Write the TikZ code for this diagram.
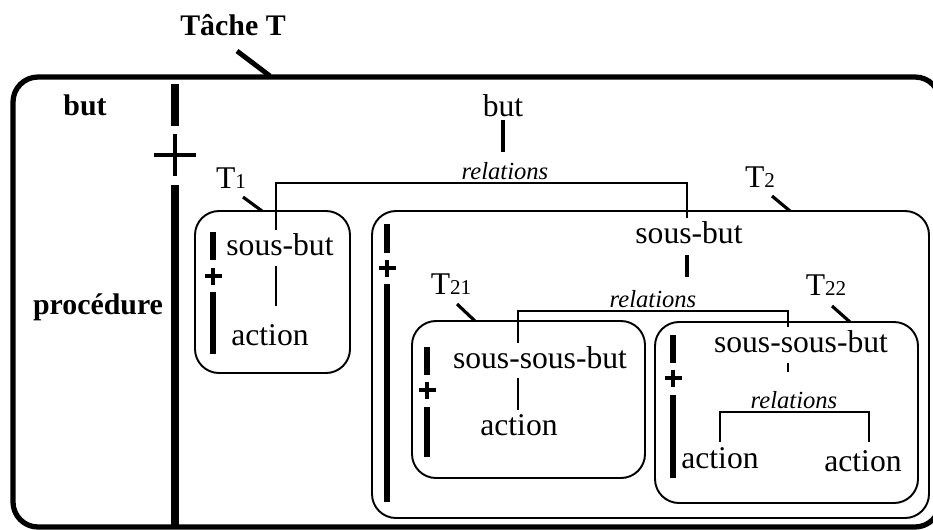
\documentclass[tikz,border=0pt]{standalone}
\usepackage{fontspec}
\setmainfont{Liberation Serif}
\usetikzlibrary{fit}

\newcommand{\idx}[1]{{\fontsize{12}{12}\selectfont #1}}

\begin{document}
\begin{tikzpicture}[
				x=0.02cm, y=-0.02cm,
				box/.style={draw, line width=1.1pt, rounded corners=0.48cm, inner sep=0pt},
				txt/.style={anchor=base, inner sep=0pt, font=\fontsize{18}{20}\selectfont},
				bold/.style={anchor=base, inner sep=0pt, font=\fontsize{17}{19}\selectfont\bfseries},
				rel/.style={anchor=south, inner sep=1.5pt, font=\fontsize{14}{16}\selectfont\itshape},
				link/.style={line width=0.9pt},
				tick/.style={line width=1.8pt},
				bar/.style={line width=3.6pt},
				plus/.style={line width=2.8pt}
				]
				\useasboundingbox (0,0) rectangle (933,529);
				
				% boites des taches
				\node[box, line width=3pt, rounded corners=0.5cm, fit={(13,77) (940,527)}] (T) {};
				\node[box, fit={(195,211) (350,373)}] (T1) {};
				\node[box, fit={(372,211) (929,518)}] (T2) {};
				\node[box, fit={(412,321) (645,478)}] (T21) {};
				\node[box, fit={(655,322) (918,503)}] (T22) {};
				
				% etiquettes
				\node[bold] (title) at (233,35) {Tâche T};
				\node[bold] (lbut) at (85,115) {but};
				\node[bold] (lproc) at (98,314) {procédure};
				\node[txt] (lT1) at (231,188) {T\idx{1}};
				\node[txt] (lT2) at (760,187) {T\idx{2}};
				\node[txt] (lT21) at (451,294) {T\idx{21}};
				\node[txt] (lT22) at (826,295) {T\idx{22}};
				
				\draw[tick, line width=2.8pt] (237,51) -- (270,76);
				\draw[tick] (243,197) -- (262,211);
				\draw[tick] (772,196) -- (790,211);
				\draw[tick] (457,304) -- (475,321);
				\draw[tick] (832,306) -- (850,322);
				
				% separateur but / procedure
				\draw[bar, line width=4.3pt] (175,84) -- (175,126) (175,185) -- (175,528);
				\draw[plus] (154,155) -- (196,155) (175,134) -- (175,176);
				\foreach \x/\a/\b/\p/\c/\d in {213/232/260/276/292/354, 387/224/253/268/284/502, 427/347/375/390/407/457, 673/335/363/378/395/478}
				{
					\draw[bar] (\x,\a) -- (\x,\b) (\x,\c) -- (\x,\d);
					\draw[plus] (\x-8.5,\p) -- (\x+8.5,\p) (\x,\p-8.5) -- (\x,\p+8.5);
				}
				
				% tache T
				\node[txt] (but) at (503,116) {but};
				\node[rel] (r0) at (505,183) {relations};
				\draw[tick, line width=2.3pt] (503,120) -- (503,152);
				\draw[link] (276,230) |- (r0.south) -| (687,218);
				
				% tache T1
				\node[txt] (sb1) at (280,255) {sous-but};
				\node[txt] (act1) at (270,345) {action};
				\draw[link] (276,266) -- (276,306);
				
				% tache T2
				\node[txt] (sb2) at (689,243) {sous-but};
				\node[rel] (r2) at (653,311) {relations};
				\draw[tick, line width=2.3pt] (687,255) -- (687,277);
				\draw[link] (518,343) |- (r2.south) -| (788,327);
				
				% tache T21
				\node[txt] (sb21) at (540,368) {sous-sous-but};
				\node[txt] (act21) at (519,435) {action};
				\draw[link] (518,378) -- (518,410);
				
				% tache T22
				\node[txt] (sb22) at (801,352) {sous-sous-but};
				\node[rel] (r22) at (794,412) {relations};
				\node[txt] (act22a) at (720,468) {action};
				\node[txt] (act22b) at (863,471) {action};
				\draw[link, line width=1.5pt] (788,363) -- (788,372);
				\draw[link] (720,442) |- (r22.south) -| (869,442);
\end{tikzpicture}
\end{document}
